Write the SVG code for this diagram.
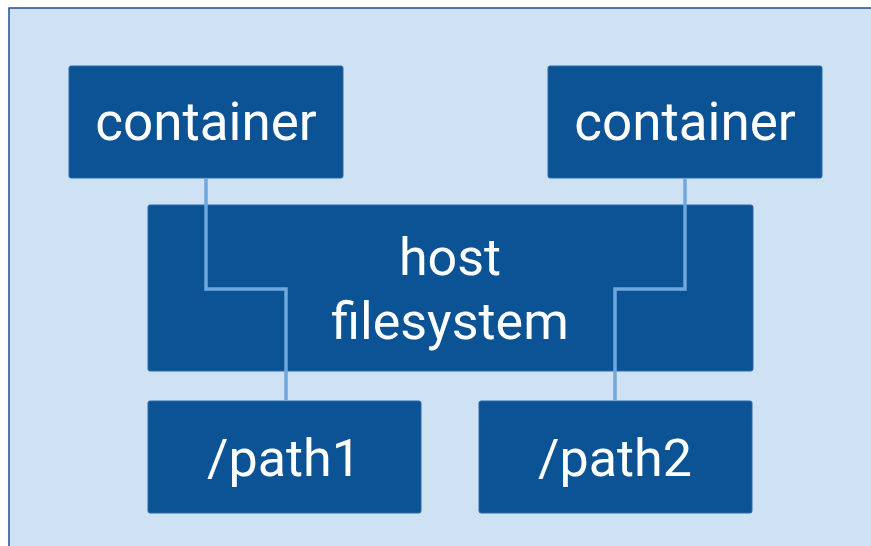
<svg xmlns="http://www.w3.org/2000/svg" width="871" height="546" viewBox="0 0 871 546">
<style>
.box{fill:#0b5394;stroke:#2a6aa8;stroke-width:1}
.lbl{font-family:Roboto,"Liberation Sans",sans-serif;font-size:52px;fill:#ffffff;text-anchor:middle}
.big{font-size:53px}
.conn{fill:none;stroke:#6fa8dc;stroke-width:3.5}
</style>
<rect x="9" y="8" width="880" height="560" fill="#cfe2f3" stroke="#1f4e8c" stroke-width="1.5"/>
<g id="container1"><rect class="box" x="69" y="66" width="274" height="112" rx="2"/><text class="lbl big" x="206" y="140">container</text></g>
<g id="container2"><rect class="box" x="548" y="66" width="274" height="112" rx="2"/><text class="lbl big" x="685" y="140">container</text></g>
<g id="host"><rect class="box" x="148" y="205" width="605" height="166" rx="2"/><text class="lbl" x="450" y="275">host</text><text class="lbl" x="450" y="339">filesystem</text></g>
<g id="path1"><rect class="box" x="148" y="401" width="273" height="112" rx="2"/><text class="lbl" x="284" y="476">/path1</text></g>
<g id="path2"><rect class="box" x="479" y="401" width="273" height="112" rx="2"/><text class="lbl" x="615" y="476">/path2</text></g>
<g id="connectors">
<path class="conn" d="M206,178 V289 H286 V401"/>
<path class="conn" d="M685,178 V289 H615 V401"/>
</g>
</svg>
